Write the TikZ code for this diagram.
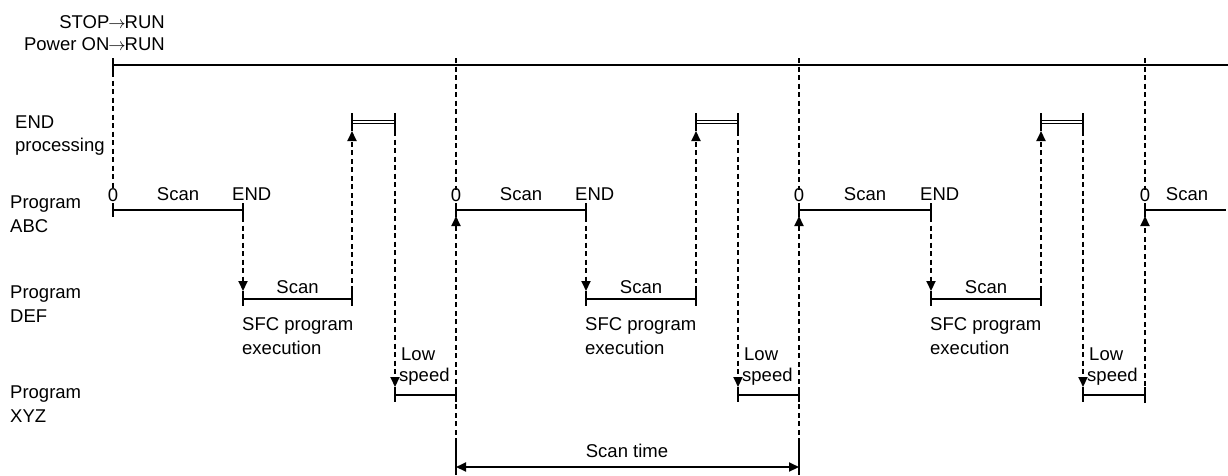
\documentclass[tikz,border=0pt]{standalone}
\usepackage{fontspec}
\setmainfont{Liberation Sans}
\usetikzlibrary{arrows.meta}
\newcommand{\myarr}{\,$\rightarrow$\,}
\begin{document}
\begin{tikzpicture}[x=1pt,y=-1pt,
  every node/.style={inner sep=0pt, font=\fontsize{18.5}{22}\selectfont},
  solidline/.style={line width=2pt},
  dashline/.style={line width=2pt, dash pattern=on 5pt off 3.5pt},
  tipend/.style={-{Triangle[length=10pt,width=9pt]}},
  dbl/.style={double, double distance=1.8pt, line width=1.1pt}
]
\useasboundingbox (0,0) rectangle (1228,475);
% top labels
\node[anchor=base east] (stop) at (165,28) {STOP{\kern-1pt}$\rightarrow${\kern-1pt}RUN};
\node[anchor=base east] (pwr) at (165,50) {Power ON{\kern-1pt}$\rightarrow${\kern-1pt}RUN};
% row labels
\node[anchor=base west] (r1a) at (15,128) {END};
\node[anchor=base west] (r1b) at (15,151) {processing};
\node[anchor=base west] (r2a) at (10,208) {Program};
\node[anchor=base west] (r2b) at (10,232) {ABC};
\node[anchor=base west] (r3a) at (10,298) {Program};
\node[anchor=base west] (r3b) at (10,322) {DEF};
\node[anchor=base west] (r4a) at (10,398) {Program};
\node[anchor=base west] (r4b) at (10,422) {XYZ};
% top line
\coordinate (t0) at (113,65);
\coordinate (tR) at (1228,65);
\draw[solidline] (t0) -- (tR);
\draw[solidline] ([yshift=7pt]t0) -- ([yshift=-7pt]t0);
\coordinate (sA0) at (113,210);
\draw[dashline] ([yshift=-7pt]t0) -- ([yshift=20pt]sA0);
% cycles
\foreach \i/\s/\e/\u/\d/\n/\b in {0/113/243/352/395/456/443, 1/456/586/696/738/799/443, 2/799/931/1041/1083/1145/403} {
  % Program ABC
  \coordinate (sA\i) at (\s,210);
  \coordinate (eA\i) at (\e,210);
  \draw[solidline] (sA\i) -- (eA\i);
  \draw[solidline] ([yshift=7pt]sA\i) -- ([yshift=-7pt]sA\i);
  \draw[solidline] ([yshift=7pt]eA\i) -- ([yshift=-7pt]eA\i);
  \node[anchor=base] (z\i) at (\s,201) {0};
  \node[anchor=base] (sc\i) at ({(\s+\e)/2},200) {Scan};
  \node[anchor=base west] (en\i) at (\e-11,200) {END};
  % Program DEF
  \coordinate (eD\i) at (\e,299);
  \coordinate (uD\i) at (\u,299);
  \draw[dashline,tipend] ([yshift=-7pt]eA\i) -- ([yshift=8pt]eD\i);
  \draw[solidline] (eD\i) -- (uD\i);
  \draw[solidline] ([yshift=8pt]eD\i) -- ([yshift=-7pt]eD\i);
  \draw[solidline] ([yshift=8pt]uD\i) -- ([yshift=-7pt]uD\i);
  \node[anchor=base] (sd\i) at ({(\e+\u)/2},293) {Scan};
  \node[anchor=base west] (sf\i) at (\e-1,330) {SFC program};
  \node[anchor=base west] (ex\i) at (\e-1,354) {execution};
  % END processing
  \coordinate (uE\i) at (\u,122);
  \coordinate (dE\i) at (\d,122);
  \draw[dashline,tipend] ([yshift=8pt]uD\i) -- ([yshift=-9pt]uE\i);
  \draw[dbl] (uE\i) -- (dE\i);
  \draw[solidline] ([yshift=9pt]uE\i) -- ([yshift=-9pt]uE\i);
  \draw[solidline] ([yshift=9pt]dE\i) -- ([yshift=-9pt]dE\i);
  % Program XYZ
  \coordinate (dX\i) at (\d,395);
  \coordinate (nX\i) at (\n,395);
  \draw[dashline,tipend] ([yshift=-9pt]dE\i) -- ([yshift=8pt]dX\i);
  \draw[solidline] (dX\i) -- (nX\i);
  \draw[solidline] ([yshift=8pt]dX\i) -- ([yshift=-7pt]dX\i);
  \draw[solidline] ([yshift=8pt]nX\i) -- ([yshift=-7pt]nX\i);
  \node[anchor=base west] (lo\i) at (\d+6,360) {Low};
  \node[anchor=base west] (sp\i) at (\d+4,381) {speed};
  % vertical at next start
  \coordinate (nA\i) at (\n,210);
  \coordinate (nT\i) at (\n,58);
  \coordinate (nB\i) at (\n,\b);
  \draw[dashline] (nT\i) -- ([yshift=20pt]nA\i);
  \draw[dashline,tipend] (nB\i) -- ([yshift=-6pt]nA\i);
}
% final partial ABC
\coordinate (sA3) at (1145,210);
\coordinate (eA3) at (1226,210);
\draw[solidline] (sA3) -- (eA3);
\draw[solidline] ([yshift=7pt]sA3) -- ([yshift=-7pt]sA3);
\node[anchor=base] (z3) at (1145,201) {0};
\node[anchor=base] (sc3) at (1187,200) {Scan};
% scan time
\coordinate (st1) at (456,467);
\coordinate (st2) at (799,467);
\draw[solidline,{Triangle[length=10pt,width=9pt]}-{Triangle[length=10pt,width=9pt]}] (st1) -- (st2);
\draw[solidline] ([yshift=24pt]st1) -- ([yshift=-8pt]st1);
\draw[solidline] ([yshift=24pt]st2) -- ([yshift=-8pt]st2);
\node[anchor=base] (stl) at (627,457) {Scan time};
\end{tikzpicture}
\end{document}
